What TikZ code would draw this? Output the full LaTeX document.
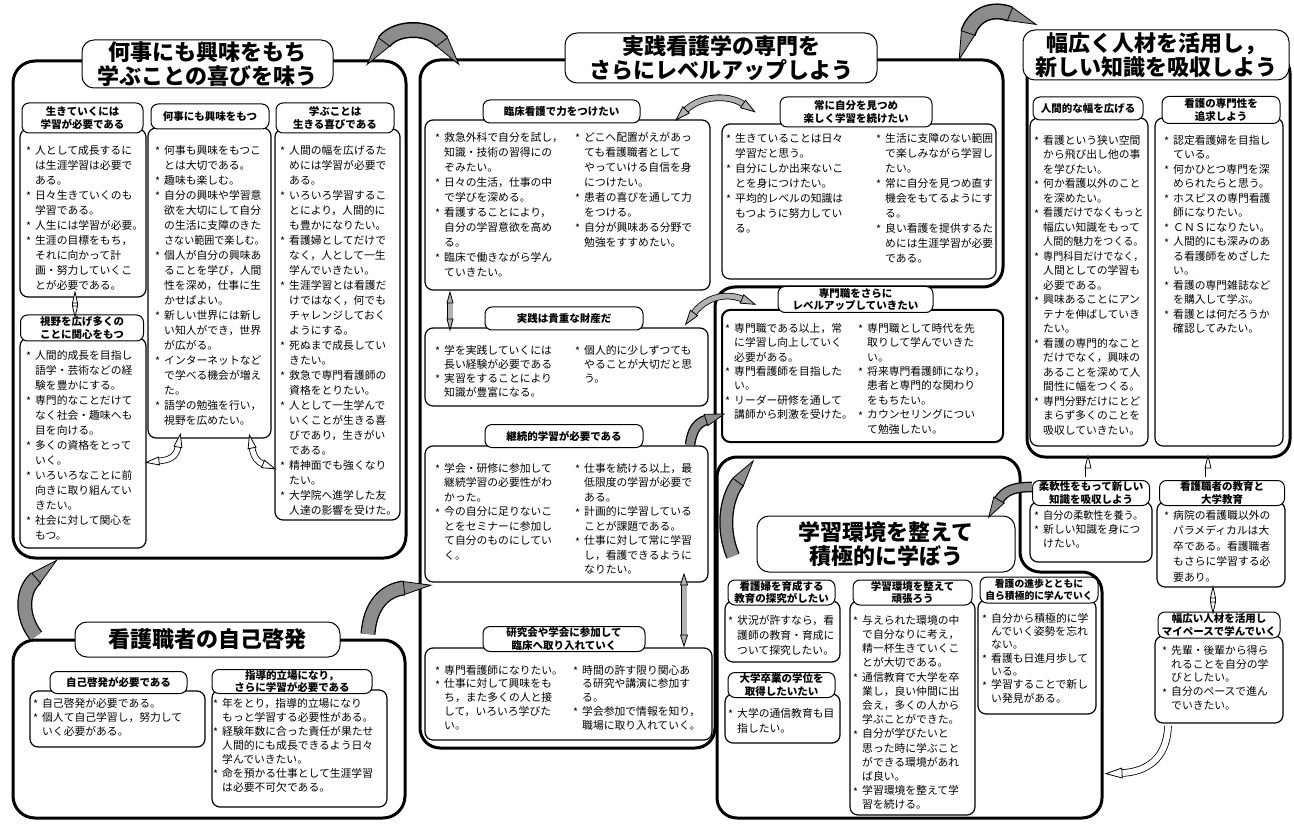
\documentclass[tikz,border=0pt]{standalone}
\usepackage{fontspec}
\setmainfont{Noto Sans CJK JP}
\usetikzlibrary{shapes.geometric}
\newcommand\st{\makebox[9pt][l]{\raisebox{-1.5pt}{*}}}
\newcommand\ii{\hspace*{9pt}}
\newcommand\sq[1]{\scalebox{0.93}[1]{#1}}
\tikzset{
 frame/.style={line width=3pt, line join=round},
 cbox/.style={draw, line width=1.2pt, rounded corners=8pt, inner sep=0pt, outer sep=0pt},
 hdr/.style={draw, line width=1pt, rounded corners=7pt, fill=white, inner sep=0pt, align=center, font=\bfseries\fontsize{10.5}{12.5}\selectfont},
 ttl/.style={draw, line width=1pt, rounded corners=12pt, fill=white, inner sep=0pt, align=center, font=\bfseries\fontsize{22}{24}\selectfont},
 tx/.style={inner sep=0pt, anchor=north west, align=left},
 tip/.style n args={3}{isosceles triangle, isosceles triangle stretches, inner sep=0pt, outer sep=0pt, draw=black, line width=0.8pt, sloped, allow upside down, anchor=lower side, minimum width=#1, minimum height=#2, fill=#3},
}
\newcommand\tb[5]{\node[tx,font=\fontsize{10.8}{#4}\selectfont] (#1) at (#2,#3-5) {#5};}
\newcommand\hd[6]{\node[hdr,minimum width=#4,minimum height=#5] (#1) at (#2,#3) {#6};}
\newcommand\cb[5]{\node[cbox,anchor=north west,minimum width={#4-#2},minimum height={#5-#3}] (#1) at (#2,#3) {};}
\newcommand\barr[5]{\draw[line width=#1] #4;\draw[line width=#2,#3] #4 #5;}
\begin{document}
\begin{tikzpicture}[x=1pt,y=-1pt]
\fill[white] (0,0) rectangle (1294,826);
\useasboundingbox (0,0) rectangle (1294,826);

% ---------- frames ----------
\draw[frame, rounded corners=22] (13,61) rectangle (406,558);
\draw[frame, rounded corners=20] (420,60) -- (1003,60) -- (1003,287) -- (715,287) -- (715,748) -- (420,748) -- cycle;
\draw[frame, rounded corners=18] (1027,55) rectangle (1290,457);
\draw[frame, rounded corners=20] (717,457) -- (1020,457) -- (1020,572) -- (1102,572) -- (1102,818) -- (717,818) -- cycle;
\draw[frame, rounded corners=22] (13,640) rectangle (405,818);

% ---------- section A ----------
\cb{A1b}{20}{129}{146}{297}
\cb{A2b}{148}{128}{271}{438}
\cb{A3b}{275}{129}{400}{520}
\cb{A4b}{20}{338}{146}{548}
\hd{A1h}{82.5}{118}{121}{30}{生きていくには\\学習が必要である}
\hd{A2h}{210}{116.5}{118}{25}{何事にも興味をもつ}
\hd{A3h}{335}{118}{118}{30}{学ぶことは\\生きる喜びである}
\hd{A4h}{82}{328}{123}{26}{視野を広げ多くの\\ことに関心をもつ}
\tb{A1t}{26}{150}{15}{\st 人として成長するに\\\ii は生涯学習は必要で\\\ii ある。\\\st 日々生きていくのも\\\ii 学習である。\\\st 人生には学習が必要。\\\st 生涯の目標をもち，\\\ii それに向かって計\\\ii 画・努力していくこ\\\ii とが必要である。}
\tb{A2t}{155}{150}{15}{\st 何事も興味をもつこ\\\ii とは大切である。\\\st 趣味も楽しむ。\\\st 自分の興味や学習意\\\ii 欲を大切にして自分\\\ii の生活に支障のきた\\\ii \sq{さない範囲で楽しむ。}\\\st 個人が自分の興味あ\\\ii ることを学び，人間\\\ii 性を深め，仕事に生\\\ii かせばよい。\\\st 新しい世界には新し\\\ii い知人ができ，世界\\\ii が広がる。\\\st インターネットなど\\\ii で学べる機会が増え\\\ii た。\\\st 語学の勉強を行い，\\\ii 視野を広めたい。}
\tb{A3t}{280}{150}{15}{\st 人間の幅を広げるた\\\ii めには学習が必要で\\\ii ある。\\\st いろいろ学習するこ\\\ii とにより，人間的に\\\ii も豊かになりたい。\\\st 看護婦としてだけで\\\ii なく，人として一生\\\ii 学んでいきたい。\\\st 生涯学習とは看護だ\\\ii けではなく，何でも\\\ii チャレンジしておく\\\ii ようにする。\\\st 死ぬまで成長してい\\\ii きたい。\\\st 救急で専門看護師の\\\ii 資格をとりたい。\\\st 人として一生学んで\\\ii いくことが生きる喜\\\ii びであり，生きがい\\\ii である。\\\st 精神面でも強くなり\\\ii たい。\\\st 大学院へ進学した友\\\ii 人達の影響を受けた。}
\tb{A4t}{26}{355}{15}{\st 人間的成長を目指し\\\ii 語学・芸術などの経\\\ii 験を豊かにする。\\\st 専門的なことだけて\\\ii なく社会・趣味へも\\\ii 目を向ける。\\\st 多くの資格をとって\\\ii いく。\\\st いろいろなことに前\\\ii 向きに取り組んてい\\\ii きたい。\\\st 社会に対して関心を\\\ii もつ。}
\node[ttl, minimum width=251, minimum height=48] (tA) at (207.5,64) {何事にも興味をもち\\学ぶことの喜びを味う};

% ---------- section B ----------
\cb{B1b}{425}{120}{710}{290}
\cb{B2b}{425}{328}{708}{406}
\cb{B3b}{425}{446}{708}{582}
\cb{B4b}{425}{648}{712}{740}
\cb{B5b}{722}{124}{996}{279}
\node[cbox,line width=2pt,anchor=north west,minimum width=281,minimum height=132] (B6b) at (722,310) {};
\hd{B1h}{561.5}{111.5}{157}{23}{臨床看護で力をつけたい}
\hd{B2h}{564}{318.5}{158}{23}{実践は貴重な財産だ}
\hd{B3h}{564}{436}{158}{23}{継続的学習が必要である}
\hd{B4h}{564}{639}{162}{25}{研究会や学会に参加して\\臨床へ取り入れていく}
\hd{B5h}{856}{112}{152}{30}{常に自分を見つめ\\楽しく学習を続けたい}
\hd{B6h}{855.5}{299.5}{155}{26}{専門職をさらに\\レベルアップしていきたい}
\tb{B1a}{435}{137}{15}{\st 救急外科で自分を試し，\\\ii 知識・技術の習得にの\\\ii ぞみたい。\\\st 日々の生活，仕事の中\\\ii で学びを深める。\\\st 看護することにより，\\\ii 自分の学習意欲を高め\\\ii る。\\\st 臨床で働きながら学ん\\\ii ていきたい。}
\tb{B1c}{575}{137}{15}{\st どこへ配置がえがあっ\\\ii ても看護職者として\\\ii やっていける自信を身\\\ii につけたい。\\\st 患者の喜びを通して力\\\ii をつける。\\\st 自分が興味ある分野で\\\ii 勉強をすすめたい。}
\tb{B2a}{435}{350}{14}{\st 学を実践していくには\\\ii 長い経験が必要である\\\st 実習をすることにより\\\ii 知識が豊富になる。}
\tb{B2c}{575}{350}{14}{\st 個人的に少しずつても\\\ii やることが大切だと思\\\ii う。}
\tb{B3a}{435}{468}{14.5}{\st 学会・研修に参加して\\\ii 継続学習の必要性がわ\\\ii かった。\\\st 今の自分に足りないこ\\\ii とをセミナーに参加し\\\ii て自分のものにしてい\\\ii く。}
\tb{B3c}{575}{468}{14.5}{\st 仕事を続ける以上，最\\\ii 低限度の学習が必要で\\\ii ある。\\\st 計画的に学習している\\\ii ことが課題である。\\\st 仕事に対して常に学習\\\ii し，看護できるように\\\ii なりたい。}
\tb{B4a}{435}{670}{13.7}{\st 専門看護師になりたい。\\\st 仕事に対して興味をも\\\ii ち，また多くの人と接\\\ii して，いろいろ学びた\\\ii い。}
\tb{B4c}{573}{670}{13.7}{\st 時間の許す限り関心あ\\\ii る研究や講演に参加す\\\ii る。\\\st 学会参加で情報を知り，\\\ii 職場に取り入れていく。}
\tb{B5a}{726}{138}{15}{\st 生きていることは日々\\\ii 学習だと思う。\\\st 自分にしか出来ないこ\\\ii とを身につけたい。\\\st 平均的レベルの知識は\\\ii もつように努力してい\\\ii る。}
\tb{B5c}{876}{138}{15}{\st 生活に支障のない範囲\\\ii で楽しみながら学習し\\\ii たい。\\\st 常に自分を見つめ直す\\\ii 機会をもてるようにす\\\ii る。\\\st 良い看護を提供するた\\\ii めには生涯学習が必要\\\ii である。}
\tb{B6a}{725}{328}{14.4}{\st 専門職である以上，常\\\ii に学習し向上していく\\\ii 必要がある。\\\st 専門看護師を目指した\\\ii い。\\\st リーダー研修を通して\\\ii 講師から刺激を受けた。}
\tb{B6c}{858}{328}{14.4}{\st 専門職として時代を先\\\ii 取りして学んでいきた\\\ii い。\\\st 将来専門看護師になり，\\\ii 患者と専門的な関わり\\\ii をもちたい。\\\st カウンセリングについ\\\ii て勉強したい。}
\node[ttl, minimum width=312, minimum height=50] (tB) at (721,58) {実践看護学の専門を\\さらにレベルアップしよう};

% ---------- section C ----------
\cb{C1b}{1030}{118}{1148}{446}
\cb{C2b}{1155}{118}{1283}{446}
\cb{Cjb}{1030}{502}{1152}{562}
\cb{Ckb}{1157}{502}{1285}{587}
\cb{Cwb}{1155}{636}{1283}{723}
\hd{C1h}{1088}{108.5}{110}{23}{人間的な幅を広げる}
\hd{C2h}{1221}{110}{118}{27}{看護の専門性を\\追求しよう}
\hd{Cjh}{1091}{493}{117}{25}{柔軟性をもって新しい\\知識を吸収しよう}
\hd{Ckh}{1222}{493}{125}{25}{看護職者の教育と\\大学教育}
\hd{Cwh}{1219}{625}{122}{26}{幅広い人材を活用し\\マイペースで学んでいく}
\tb{C1t}{1034}{140}{14.5}{\st 看護という狭い空間\\\ii から飛び出し他の事\\\ii を学びたい。\\\st 何か看護以外のこと\\\ii を深めたい。\\\st \sq{看護だけでなくもっと}\\\ii 幅広い知識をもって\\\ii \sq{人間的魅力をつくる。}\\\st \sq{専門科目だけでなく，}\\\ii 人間としての学習も\\\ii 必要である。\\\st 興味あることにアン\\\ii テナを伸ばしていき\\\ii たい。\\\st 看護の専門的なこと\\\ii だけでなく，興味の\\\ii あることを深めて人\\\ii 間性に幅をつくる。\\\st 専門分野だけにとど\\\ii まらず多くのことを\\\ii 吸収していきたい。}
\tb{C2t}{1164}{140}{14.5}{\st 認定看護婦を目指し\\\ii ている。\\\st 何かひとつ専門を深\\\ii められたらと思う。\\\st ホスピスの専門看護\\\ii 師になりたい。\\\st ＣＮＳになりたい。\\\st 人間的にも深みのあ\\\ii る看護師をめざした\\\ii い。\\\st 看護の専門雑誌など\\\ii を購入して学ぶ。\\\st 看護とは何だろうか\\\ii 確認してみたい。}
\tb{Cjt}{1034}{515}{14}{\st \sq{自分の柔軟性を養う。}\\\st 新しい知識を身につ\\\ii けたい。}
\tb{Ckt}{1164}{515}{15.5}{\st 病院の看護職以外の\\\ii パラメディカルは大\\\ii 卒である。看護職者\\\ii もさらに学習する必\\\ii 要あり。}
\tb{Cwt}{1162}{650}{13.8}{\st 先輩・後輩から得ら\\\ii れることを自分の学\\\ii びとしたい。\\\st 自分のペースで進ん\\\ii でいきたい。}
\node[ttl, minimum width=266, minimum height=50] (tC) at (1156,55) {幅広く人材を活用し，\\新しい知識を吸収しよう};

% ---------- section D ----------
\cb{D1b}{725}{601}{840}{662}
\cb{D2b}{725}{694}{840}{743}
\cb{D3b}{850}{601}{975}{815}
\cb{D4b}{978}{600}{1096}{714}
\hd{D1h}{781.5}{592.5}{107}{25}{看護婦を育成する\\教育の探究がしたい}
\hd{D2h}{781.5}{685}{107}{25}{大学卒業の学位を\\取得したいたい}
\hd{D3h}{912.5}{592.5}{119}{25}{学習環境を整えて\\頑張ろう}
\node[hdr,minimum width=118,minimum height=26,font=\bfseries\fontsize{9.8}{12}\selectfont] (D4h) at (1039,590) {看護の進歩とともに\\自ら積極的に学んでいく};
\tb{D1t}{728}{620}{15}{\st 状況が許すなら，看\\\ii 護師の教育・育成に\\\ii ついて探究したい。}
\tb{D2t}{728}{713}{15}{\st 大学の通信教育も目\\\ii 指したい。}
\tb{D3t}{853}{620}{14.2}{\st 与えられた環境の中\\\ii で自分なりに考え，\\\ii 精一杯生きていくこ\\\ii とが大切である。\\\st 通信教育で大学を卒\\\ii 業し，良い仲間に出\\\ii 会え，多くの人から\\\ii 学ぶことができた。\\\st 自分が学びたいと\\\ii 思った時に学ぶこと\\\ii ができる環境があれ\\\ii ば良い。\\\st 学習環境を整えて学\\\ii 習を続ける。}
\tb{D4t}{982}{618}{13.3}{\st 自分から積極的に学\\\ii んでいく姿勢を忘れ\\\ii ない。\\\st 看護も日進月歩して\\\ii いる。\\\st 学習することで新し\\\ii い発見がある。}
\node[ttl, minimum width=258, minimum height=56] (tD) at (886,544) {学習環境を整えて\\積極的に学ぼう};

% ---------- section E ----------
\cb{E1b}{30}{691}{205}{747}
\cb{E2b}{212}{690}{387}{807}
\hd{E1h}{118.5}{682.5}{137}{22}{自己啓発が必要である}
\hd{E2h}{292}{681.5}{160}{24}{指導的立場になり，\\さらに学習が必要である}
\tb{E1t}{33}{703}{14}{\st 自己啓発が必要である。\\\st 個人て自己学習し，努力して\\\ii いく必要がある。}
\tb{E2t}{213}{703}{14}{\st 年をとり，指導的立場になり\\\ii もっと学習する必要性がある。\\\st 経験年数に合った責任が果たせ\\\ii 人間的にも成長できるよう日々\\\ii 学んでいきたい。\\\st 命を預かる仕事として生涯学習\\\ii は必要不可欠である。}
\node[ttl, minimum width=265, minimum height=35] (tE) at (207.5,639.5) {看護職者の自己啓発};

% ---------- arrows ----------
\barr{16pt}{13pt}{black!45}{(384,42) .. controls (396,26) and (430,26) .. (442,42)}{node[tip={14}{28}{black!45},pos=0,rotate=180]{} node[tip={14}{28}{black!45},pos=1]{}}
\barr{16pt}{13pt}{black!45}{(968,33) .. controls (975,12) and (995,8) .. (1010,14)}{node[tip={14}{28}{black!45},pos=0,rotate=180]{} node[tip={14}{28}{black!45},pos=1]{}}
\barr{15pt}{12.4pt}{black!45}{(36,636) .. controls (20,615) and (22,590) .. (36,578)}{node[tip={13}{27}{black!45},pos=1]{}}
\barr{15pt}{12.4pt}{black!45}{(368,634) .. controls (370,605) and (385,590) .. (404,588)}{node[tip={13}{27}{black!45},pos=1]{}}
\barr{14pt}{11.4pt}{black!45}{(733,556) .. controls (722,530) and (725,500) .. (738,482)}{node[tip={13}{26}{black!45},pos=1]{}}
\barr{10.6pt}{8pt}{black!45}{(1032,487) .. controls (1015,487) and (1005,490) .. (999,500)}{node[tip={12}{20}{black!45},pos=1]{}}
\barr{10.6pt}{8pt}{black!45}{(690,445) .. controls (692,430) and (697,423) .. (706,420)}{node[tip={12}{19}{black!45},pos=1]{}}
\barr{6.6pt}{5pt}{black!30}{(686,110) .. controls (700,96) and (728,94) .. (743,104)}{node[tip={9}{14}{black!30},pos=0,rotate=180]{} node[tip={9}{14}{black!30},pos=1]{}}
\barr{6.6pt}{5pt}{black!30}{(694,313) .. controls (705,298) and (725,292) .. (742,299)}{node[tip={9}{14}{black!30},pos=0,rotate=180]{} node[tip={9}{14}{black!30},pos=1]{}}
\barr{6.6pt}{5pt}{white}{(178,447) .. controls (176,458) and (168,460) .. (159,461)}{node[tip={8}{13}{white},pos=0,rotate=180]{} node[tip={8}{13}{white},pos=1]{}}
\barr{6.6pt}{5pt}{white}{(252,448) .. controls (254,458) and (258,462) .. (263,464)}{node[tip={8}{13}{white},pos=0,rotate=180]{} node[tip={8}{13}{white},pos=1]{}}
\barr{7.6pt}{6pt}{white}{(1168,726) .. controls (1167,760) and (1145,772) .. (1122,773)}{node[tip={10}{16}{white},pos=1]{}}
\barr{5.6pt}{4pt}{white}{(75,303) -- (75,306)}{node[tip={5}{11}{white},pos=0,rotate=180]{} node[tip={5}{11}{white},pos=1]{}}
\barr{5.6pt}{4pt}{white}{(1213,598) -- (1213,602)}{node[tip={5}{11}{white},pos=0,rotate=180]{} node[tip={5}{11}{white},pos=1]{}}
\barr{6.6pt}{5pt}{black!30}{(450,303) -- (450,319)}{node[tip={6}{11}{black!30},pos=0,rotate=180]{} node[tip={6}{11}{black!30},pos=1]{}}
\barr{6.6pt}{5pt}{black!30}{(684,585) -- (684,635)}{node[tip={7}{11}{black!30},pos=0,rotate=180]{} node[tip={7}{11}{black!30},pos=1]{}}
\barr{6.6pt}{5pt}{white}{(1088,477) -- (1088,468)}{node[tip={6}{12}{white},pos=1]{}}
\barr{6.6pt}{5pt}{white}{(1208,477) -- (1208,468)}{node[tip={6}{12}{white},pos=1]{}}
\end{tikzpicture}
\end{document}
